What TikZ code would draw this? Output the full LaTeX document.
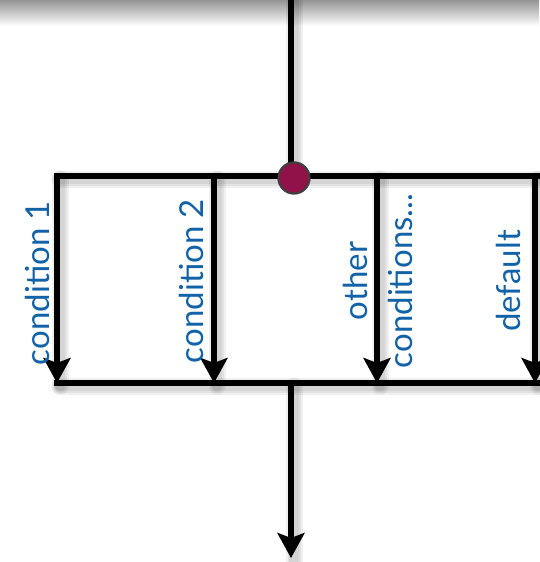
\documentclass[tikz,border=0pt]{standalone}
\usepackage{fontspec}
\setmainfont{Lato}
\usetikzlibrary{arrows.meta}
\definecolor{labelblue}{RGB}{18,98,168}
\definecolor{dotred}{RGB}{145,18,72}

\begin{document}
\begin{tikzpicture}[x=1pt,y=-1pt,
  wire/.style={line width=5.5pt, draw=black},
  bar/.style={wire, line cap=rect},
  branch/.style={wire, -{Stealth[length=25pt,width=27pt,inset=5pt]}},
  ghost/.style={line width=#1, draw=black, opacity=0.06, line cap=round},
  lbl/.style={text=labelblue, font=\fontsize{33}{38}\selectfont, rotate=90,
              inner sep=0pt, anchor=base},
  splitdot/.style={circle, fill=dotred, draw=black!75, line width=2pt,
                   minimum size=31pt, inner sep=0pt}]
\useasboundingbox (0,0) rectangle (539,562);

% soft shade along the top edge
\shade[top color=black!42, bottom color=white] (0,0) rectangle (539,26);

% anchor points of the switch frame
\coordinate (in)  at (291,0);
\coordinate (c1t) at (57,176);  \coordinate (c1b) at (57,383);
\coordinate (c2t) at (214,176); \coordinate (c2b) at (214,383);
\coordinate (c3t) at (377,176); \coordinate (c3b) at (377,383);
\coordinate (c4t) at (535,176); \coordinate (c4b) at (535,383);
\coordinate (l1)  at (57,383);  \coordinate (l4)  at (539,383);
\coordinate (join) at (291,383);
\coordinate (out) at (291,558);
\coordinate (topl) at (57,176); \coordinate (topr) at (539,176);

% blurred drop shadow of the wiring
\foreach \w in {17pt,13pt,10pt}{
  \begin{scope}[transform canvas={shift={(3pt,-3pt)}}]
    \draw[ghost=\w] (in) -- (291,176);
    \draw[ghost=\w] (topl) -- (topr);
    \draw[ghost=\w] (l1) -- (l4);
    \draw[ghost=\w] (c1t) -- (c1b) (c2t) -- (c2b) (c3t) -- (c3b) (c4t) -- (c4b);
    \draw[ghost=\w] (join) -- (out);
  \end{scope}
}

% wiring
\node[splitdot] (split) at (294,178) {};
\draw[wire] (in) -- (291,176);
\draw[bar] (topl) -- (topr);
\draw[bar] (l1) -- (l4);
\draw[branch] (c1t) -- (c1b);
\draw[branch] (c2t) -- (c2b);
\draw[branch] (c3t) -- (c3b);
\draw[branch] (c4t) -- (c4b);
\draw[branch] (join) -- (out);
\node[splitdot] at (split) {};

% branch labels
\node[lbl] (cond1) at (49,283) {condition 1};
\node[lbl] (cond2) at (203,281) {condition 2};
\node[lbl] (other) at (367,281) {other};
\node[lbl] (condn) at (412,281) {conditions...};
\node[lbl] (dflt)  at (520,281) {default};
\end{tikzpicture}
\end{document}
